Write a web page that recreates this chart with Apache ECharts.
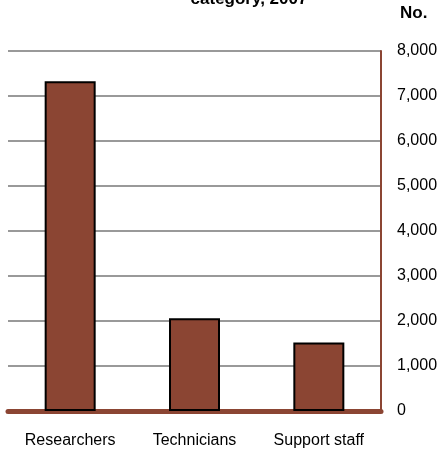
<!DOCTYPE html>
<html>
<head>
<meta charset="utf-8">
<script src="https://cdn.jsdelivr.net/npm/echarts@6/dist/echarts.min.js"></script>
<style>html,body{margin:0;padding:0;background:#fff;}#c{width:444px;height:457px;}</style>
</head>
<body>
<div id="c"></div>
<script>
var categories = ['Researchers', 'Technicians', 'Support staff'];
var values = [7330, 2060, 1520];
var yTicks = [0, 1000, 2000, 3000, 4000, 5000, 6000, 7000, 8000];
var titleText = 'category, 2007';
var unitText = 'No.';

var chart = echarts.init(document.getElementById('c'), null, {renderer: 'canvas'});
var font = '"Liberation Sans", Arial, sans-serif';
chart.setOption({
  animation: false,
  backgroundColor: '#fff',
  title: {
    text: titleText, left: 244, textAlign: 'center', top: -14,
    textStyle: {fontFamily: font, fontSize: 17, fontWeight: 'bold', color: '#000'}
  },
  graphic: [{
    type: 'text', left: 400, top: 5,
    style: {text: unitText, font: 'bold 17px "Liberation Sans", Arial, sans-serif', fill: '#000'}
  }],
  grid: {left: 8, right: 63, top: 51, bottom: 46},
  xAxis: {
    type: 'category', data: categories,
    axisLine: {lineStyle: {color: '#8B4533', width: 5}},
    axisTick: {show: false},
    axisLabel: {fontFamily: font, fontSize: 16, color: '#000', margin: 22}
  },
  yAxis: {
    type: 'value', position: 'right', min: yTicks[0], max: yTicks[yTicks.length - 1], interval: 1000,
    axisLine: {show: true, lineStyle: {color: '#8B4533', width: 2}},
    axisTick: {show: false},
    axisLabel: {
      fontFamily: font, fontSize: 16, color: '#000', margin: 16,
      formatter: function (v) { return v.toLocaleString('en-US'); }
    },
    splitLine: {lineStyle: {color: '#999', width: 2}}
  },
  series: [{
    type: 'bar', data: values, barWidth: 51,
    itemStyle: {color: '#8B4533', borderColor: '#000', borderWidth: 2}
  }]
});
</script>
</body>
</html>
